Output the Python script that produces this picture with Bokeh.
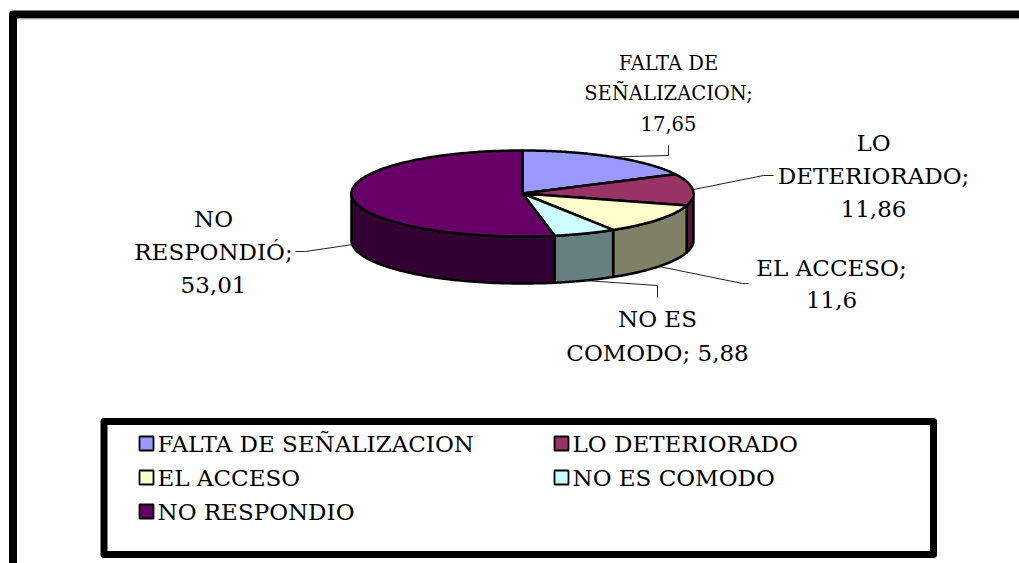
import numpy as np
from bokeh.plotting import figure
from bokeh.models import Range1d
from bokeh.core.properties import value
from bokeh.embed import file_html
from bokeh.resources import INLINE

# ---- data ----
label_names = ["FALTA DE SEÑALIZACION", "LO DETERIORADO", "EL ACCESO", "NO ES COMODO", "NO RESPONDIÓ"]
legend_names = ["FALTA DE SEÑALIZACION", "LO DETERIORADO", "EL ACCESO", "NO ES COMODO", "NO RESPONDIO"]
values = [17.65, 11.86, 11.6, 5.88, 53.01]
top_colors = ["#9999FF", "#993366", "#FFFFCC", "#CCFFFF", "#660066"]
side_colors = ["#4D4D80", "#4D1A33", "#808066", "#668080", "#330033"]

# ---- layout ----
FONT = "DejaVu Serif"
W, H = 1019, 563
cx, cy, rx, ry, depth = 522.0, 193.0, 171.0, 43.0, 47.0
words_per_line = [[2, 1, 1], [1, 1, 1], [2, 1], [2, 2], [1, 1, 1]]
label_centers = [(668, 63), (873, 142), (831, 267), (657, 318), (213, 218)]
label_sizes = ["19.5px", "23px", "23px", "23px", "23px"]
line_gap = [30, 33, 32, 34, 33]
elbows = [[(668, 155), (668, 145)], [(763, 175), (773, 175)], [(742, 283), (748, 283)],
          [(657, 285), (657, 297)], [(305, 251), (295, 251)]]

p = figure(width=W, height=H, x_range=Range1d(0, W), y_range=Range1d(H, 0),
           output_backend="svg", toolbar_location=None, min_border=0)
p.axis.visible = False
p.grid.visible = False
p.outline_line_color = None
p.background_fill_color = "white"
p.border_fill_color = "white"

# outer chart-area frame
p.line(x=[12.5, 12.5, 1040], y=[600, 14, 14], line_color="black", line_width=8, line_join="round")
p.line(x=[17, 1040], y=[18.5, 18.5], line_color="#BBBBBB", line_width=1)


def pt(t_deg, dy=0.0):
    t = np.radians(t_deg)
    return cx + rx * np.cos(t), cy - ry * np.sin(t) + dy


total = float(sum(values))
cum = np.concatenate([[0.0], np.cumsum(values)])
t_start = 90.0 - 360.0 * cum[:-1] / total
t_end = 90.0 - 360.0 * cum[1:] / total

# side walls (front half only)
sx, sy, sc = [], [], []
for i in range(len(values)):
    a, b = t_end[i], t_start[i]
    for k in (-1, 0, 1):
        lo, hi = max(a, -180 + 360 * k), min(b, 360 * k)
        if hi - lo > 0.01:
            ts = np.linspace(lo, hi, 80)
            x1, y1 = pt(ts)
            x2, y2 = pt(ts[::-1], depth)
            sx.append(list(np.concatenate([x1, x2])))
            sy.append(list(np.concatenate([y1, y2])))
            sc.append(side_colors[i])
p.patches(xs=sx, ys=sy, fill_color=sc, line_color="black", line_width=2.5, line_join="round")

# top faces
tx, ty = [], []
for i in range(len(values)):
    ts = np.linspace(t_start[i], t_end[i], 120)
    x1, y1 = pt(ts)
    tx.append([cx] + list(x1))
    ty.append([cy] + list(y1))
p.patches(xs=tx, ys=ty, fill_color=top_colors, line_color="black", line_width=2.5, line_join="round")

# data labels + leader lines
for i, name in enumerate(label_names):
    vstr = f"{values[i]:g}".replace(".", ",")
    words = f"{name}; {vstr}".split(" ")
    lines, k = [], 0
    for n in words_per_line[i]:
        lines.append(" ".join(words[k:k + n]))
        k += n
    lx, ly = label_centers[i]
    ys = [ly + j * line_gap[i] for j in range(len(lines))]
    p.text(x=[lx] * len(lines), y=ys, text=lines, text_font=value(FONT),
           text_font_size=label_sizes[i], text_align="center", text_baseline="middle",
           text_color="black")
    mid = (t_start[i] + t_end[i]) / 2.0
    px, py = pt(mid, depth if np.sin(np.radians(mid)) < 0 else 0.0)
    xs = [px] + [e[0] for e in elbows[i]]
    yy = [py] + [e[1] for e in elbows[i]]
    p.line(x=xs, y=yy, line_color="#222222", line_width=1)

# legend box
p.quad(left=[103.5], right=[933], top=[421], bottom=[554], fill_color="white",
       line_color="black", line_width=7, line_join="round")
leg_cols = [146, 561]
leg_rows = [443, 477, 511]
lx = [leg_cols[i % 2] for i in range(len(legend_names))]
ly = [leg_rows[i // 2] for i in range(len(legend_names))]
p.rect(x=lx, y=ly, width=14, height=14, fill_color=top_colors, line_color="black", line_width=1.8)
p.text(x=[v + 11 for v in lx], y=ly, text=legend_names, text_font=value(FONT),
       text_font_size="23px", text_align="left", text_baseline="middle", text_color="black")

open("out.html", "w").write(file_html(p, INLINE))
